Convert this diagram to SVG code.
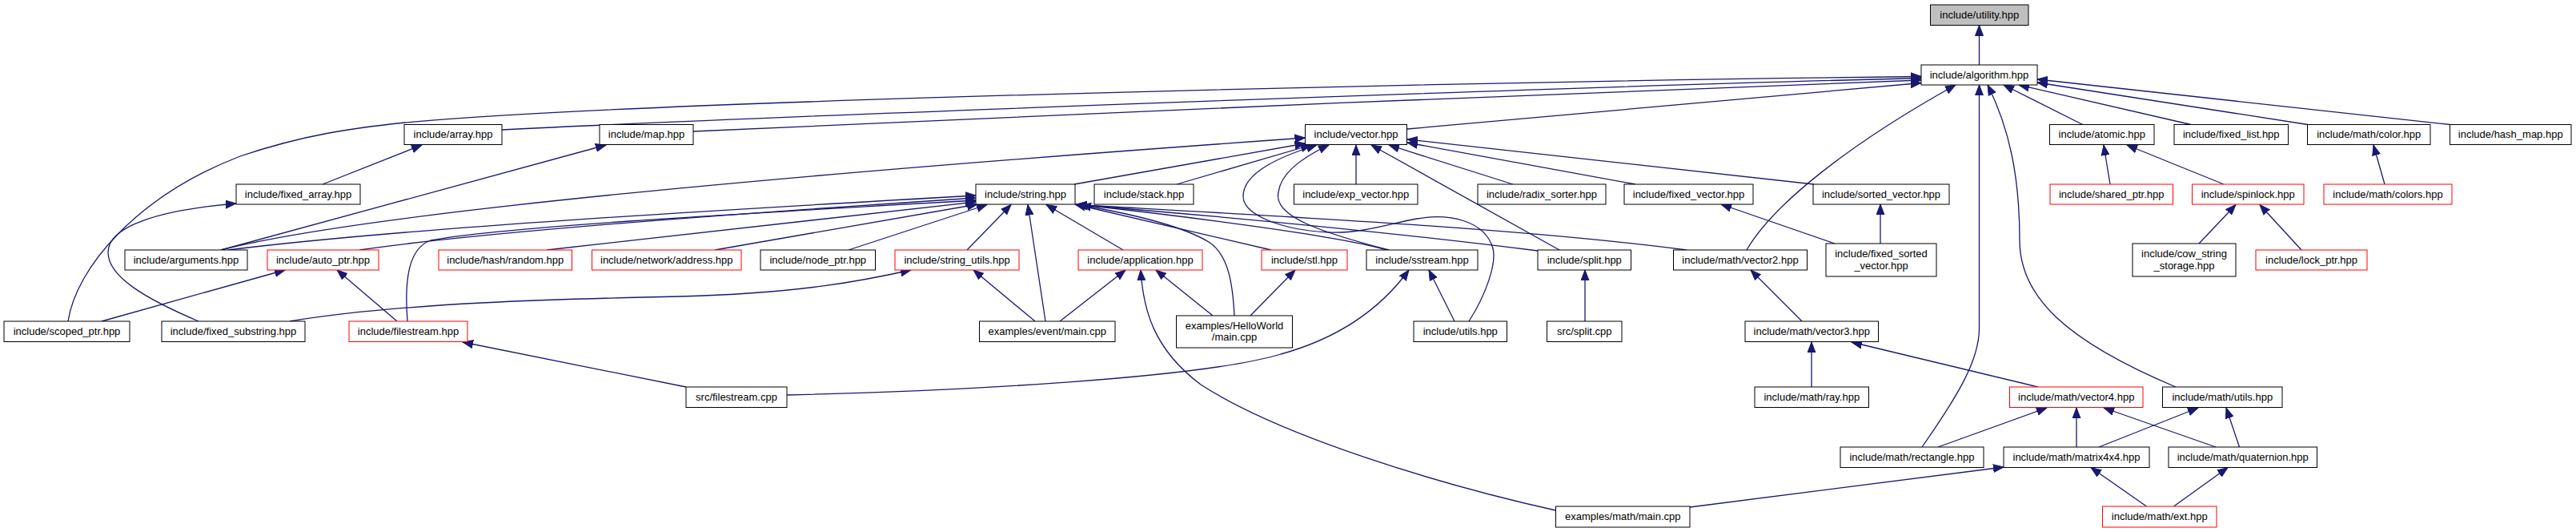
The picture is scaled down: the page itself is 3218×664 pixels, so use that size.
<svg xmlns="http://www.w3.org/2000/svg" width="3218" height="664" viewBox="0 0 3218 664">
<style>
.n rect{fill:#fff;stroke:#000;stroke-width:1}
.n.r rect{stroke:#ff0000}
.n.g rect{fill:#bfbfbf}
.n text{font-family:"Liberation Sans",Arial,sans-serif;font-size:13px;fill:#000;text-anchor:middle}
#edges path{fill:none;stroke:#191970;stroke-width:1.3;marker-end:url(#ah)}
</style>
<defs>
<marker id="ah" markerWidth="14" markerHeight="11" refX="13" refY="5.5" orient="auto" markerUnits="userSpaceOnUse"><path d="M0,0.5 L13,5.5 L0,10.5 z" fill="#191970" stroke="#191970" stroke-width="1"/></marker>
</defs>
<rect width="3218" height="664" fill="#fff"/>
<g id="edges">
<path d="M2472.5,81 L2472.5,31.5"/>
<path d="M627,162 C900,148 1900,110 2400,97.5"/>
<path d="M866,164 C1200,150 2000,112 2400,100"/>
<path d="M85,401 C95,335 170,245 300,195 C380,168 440,160 506,153 C800,125 1900,101 2400,95.5"/>
<path d="M1758,161 L2400,103.5"/>
<path d="M2601.7,155.5 L2503,106"/>
<path d="M2737,155.5 L2522,106"/>
<path d="M2883,155.5 L2545,103"/>
<path d="M3060.5,155.5 L2545,99"/>
<path d="M2182,312 C2215,255 2310,180 2443,106"/>
<path d="M2401,558 C2445,495 2472.5,450 2472.5,410 L2472.5,106"/>
<path d="M2718,483 C2580,425 2523,370 2523,300 C2523,220 2510,160 2483,106"/>
<path d="M276,312 C430,272 880,225 1630.5,172"/>
<path d="M276,312 L757,181"/>
<path d="M285,312 C500,285 900,262 1219,244"/>
<path d="M449,312 C600,290 900,268 1219,247"/>
<path d="M509,401 C505,350 510,310 538,300 C620,284 900,268 1219,250"/>
<path d="M683,312 L1219,252"/>
<path d="M893,312 L1221,255"/>
<path d="M1060,312 L1233,255.5"/>
<path d="M1208,312 L1263,255.5"/>
<path d="M1306,401 L1284,255.5"/>
<path d="M1403,312 L1307,255.5"/>
<path d="M1542,394 C1540,355 1535,318 1510,302 C1480,284 1420,268 1350,256"/>
<path d="M1588,312 L1343,255"/>
<path d="M1732,312 C1680,296 1500,272 1345,255"/>
<path d="M1921,313 C1700,285 1500,268 1345,255.5"/>
<path d="M2107,312 C1900,285 1600,270 1345,255.5"/>
<path d="M1735,312 C1650,290 1590,270 1597,240 C1600,215 1630,195 1660,181"/>
<path d="M1835,401 C1855,370 1870,330 1865,310 C1855,275 1810,266 1770,273 C1740,278 1700,292 1660,290 C1600,287 1553,268 1553,245 C1553,215 1600,195 1645,181"/>
<path d="M1470,230 L1638,181"/>
<path d="M1342,230 L1630.5,179"/>
<path d="M1694,230 L1694,181"/>
<path d="M1890,230 L1735,181"/>
<path d="M2043,230 L1758,178"/>
<path d="M2266,230 L1758,174"/>
<path d="M1948,312 L1713,181"/>
<path d="M403,230 L527,181"/>
<path d="M248,401 C180,372 135,345 135,315 C135,282 200,262 295,254"/>
<path d="M362,401 C500,378 700,373 850,370 C1000,366 1080,350 1138,337"/>
<path d="M127,401 L356,337"/>
<path d="M496,401 L421,337"/>
<path d="M857,483 L578,427"/>
<path d="M983,493 C1200,488 1500,472 1600,442 C1680,420 1730,378 1760,337"/>
<path d="M1293,401 L1216,337"/>
<path d="M1324,401 L1406,337"/>
<path d="M1515,394 L1444,337"/>
<path d="M1562,394 L1618,337"/>
<path d="M1943.5,637 C1800,605 1600,545 1500,480 C1440,435 1428,385 1425,337"/>
<path d="M2111,633 L2503,583"/>
<path d="M1817,401 L1785,337"/>
<path d="M1980,401 L1980,337"/>
<path d="M2251,401 L2187,337"/>
<path d="M2263,483 L2263,427"/>
<path d="M2546,483 L2313,427"/>
<path d="M2421,558 L2557,509"/>
<path d="M2594,558 L2594,509"/>
<path d="M2768,558 L2628,509"/>
<path d="M2622,558 L2746,509"/>
<path d="M2797.5,558 L2781,509"/>
<path d="M2681.5,632 L2612,583.5"/>
<path d="M2715.5,632 L2783,583.5"/>
<path d="M2292,304 L2150,255"/>
<path d="M2349,304 L2349,255"/>
<path d="M2636,230 L2628,181"/>
<path d="M2778,230 L2657,181"/>
<path d="M2979,230 L2965,181"/>
<path d="M2747,304 L2793,255.5"/>
<path d="M2875,312 L2823,255.5"/>
</g>
<g id="n_utility" class="n g"><rect x="2411.5" y="6" width="122.5" height="25.5"/><text x="2472.75" y="22.5">include/utility.hpp</text></g>
<g id="n_algorithm" class="n"><rect x="2400" y="81" width="145" height="25"/><text x="2472.5" y="97.5">include/algorithm.hpp</text></g>
<g id="n_array" class="n"><rect x="505" y="155.5" width="122" height="25"/><text x="566" y="172">include/array.hpp</text></g>
<g id="n_map" class="n"><rect x="749" y="155.5" width="117" height="25"/><text x="807.5" y="172">include/map.hpp</text></g>
<g id="n_vector" class="n"><rect x="1630.5" y="155.5" width="127" height="25"/><text x="1694" y="172">include/vector.hpp</text></g>
<g id="n_atomic" class="n"><rect x="2560.5" y="155.5" width="130.5" height="25"/><text x="2625.75" y="172">include/atomic.hpp</text></g>
<g id="n_fixed_list" class="n"><rect x="2716" y="155.5" width="142.5" height="25"/><text x="2787.25" y="172">include/fixed_list.hpp</text></g>
<g id="n_color" class="n"><rect x="2882.5" y="155.5" width="153.5" height="25"/><text x="2959.25" y="172">include/math/color.hpp</text></g>
<g id="n_hash_map" class="n"><rect x="3060.5" y="155.5" width="151.5" height="25"/><text x="3136.25" y="172">include/hash_map.hpp</text></g>
<g id="n_fixed_array" class="n"><rect x="295" y="230" width="155" height="25"/><text x="372.5" y="246.5">include/fixed_array.hpp</text></g>
<g id="n_string" class="n"><rect x="1219" y="230" width="124" height="25"/><text x="1281" y="246.5">include/string.hpp</text></g>
<g id="n_stack" class="n"><rect x="1367" y="230" width="124" height="25"/><text x="1429" y="246.5">include/stack.hpp</text></g>
<g id="n_exp_vector" class="n"><rect x="1616.5" y="230" width="154.5" height="25"/><text x="1693.75" y="246.5">include/exp_vector.hpp</text></g>
<g id="n_radix_sorter" class="n"><rect x="1846" y="230" width="160" height="25"/><text x="1926" y="246.5">include/radix_sorter.hpp</text></g>
<g id="n_fixed_vector" class="n"><rect x="2029" y="230" width="161" height="25"/><text x="2109.5" y="246.5">include/fixed_vector.hpp</text></g>
<g id="n_sorted_vector" class="n"><rect x="2265" y="230" width="170" height="25"/><text x="2350" y="246.5">include/sorted_vector.hpp</text></g>
<g id="n_shared_ptr" class="n r"><rect x="2561" y="230" width="153.5" height="25"/><text x="2637.75" y="246.5">include/shared_ptr.hpp</text></g>
<g id="n_spinlock" class="n r"><rect x="2738.5" y="230" width="139.5" height="25"/><text x="2808.25" y="246.5">include/spinlock.hpp</text></g>
<g id="n_colors" class="n r"><rect x="2903" y="230" width="160" height="25"/><text x="2983" y="246.5">include/math/colors.hpp</text></g>
<g id="n_arguments" class="n"><rect x="156" y="312" width="153" height="25"/><text x="232.5" y="328.5">include/arguments.hpp</text></g>
<g id="n_auto_ptr" class="n r"><rect x="334" y="312" width="139" height="25"/><text x="403.5" y="328.5">include/auto_ptr.hpp</text></g>
<g id="n_hash_random" class="n r"><rect x="548" y="312" width="166.5" height="25"/><text x="631.25" y="328.5">include/hash/random.hpp</text></g>
<g id="n_network_address" class="n r"><rect x="739.5" y="312" width="186.5" height="25"/><text x="832.75" y="328.5">include/network/address.hpp</text></g>
<g id="n_node_ptr" class="n"><rect x="950" y="312" width="143.5" height="25"/><text x="1021.75" y="328.5">include/node_ptr.hpp</text></g>
<g id="n_string_utils" class="n r"><rect x="1118" y="312" width="155" height="25"/><text x="1195.5" y="328.5">include/string_utils.hpp</text></g>
<g id="n_application" class="n r"><rect x="1347" y="312" width="155" height="25"/><text x="1424.5" y="328.5">include/application.hpp</text></g>
<g id="n_stl" class="n r"><rect x="1576" y="312" width="107" height="25"/><text x="1629.5" y="328.5">include/stl.hpp</text></g>
<g id="n_sstream" class="n"><rect x="1707" y="312" width="139" height="25"/><text x="1776.5" y="328.5">include/sstream.hpp</text></g>
<g id="n_split" class="n"><rect x="1921" y="312" width="116.5" height="25"/><text x="1979.25" y="328.5">include/split.hpp</text></g>
<g id="n_vector2" class="n"><rect x="2090.5" y="312" width="167" height="25"/><text x="2174" y="328.5">include/math/vector2.hpp</text></g>
<g id="n_fixed_sorted_vector" class="n"><rect x="2281" y="304" width="138" height="41"/><text x="2350" y="321">include/fixed_sorted</text><text x="2350" y="335.5">_vector.hpp</text></g>
<g id="n_cow_string_storage" class="n"><rect x="2664" y="304" width="129" height="41"/><text x="2728.5" y="321">include/cow_string</text><text x="2728.5" y="335.5">_storage.hpp</text></g>
<g id="n_lock_ptr" class="n r"><rect x="2818" y="312" width="139" height="25"/><text x="2887.5" y="328.5">include/lock_ptr.hpp</text></g>
<g id="n_scoped_ptr" class="n"><rect x="5" y="401" width="157" height="25.5"/><text x="83.5" y="417.5">include/scoped_ptr.hpp</text></g>
<g id="n_fixed_substring" class="n"><rect x="202" y="401" width="179" height="25.5"/><text x="291.5" y="417.5">include/fixed_substring.hpp</text></g>
<g id="n_filestream" class="n r"><rect x="436" y="401" width="148" height="25.5"/><text x="510" y="417.5">include/filestream.hpp</text></g>
<g id="n_event_main" class="n"><rect x="1223.5" y="401" width="169.5" height="25.5"/><text x="1308.25" y="417.5">examples/event/main.cpp</text></g>
<g id="n_helloworld_main" class="n"><rect x="1469.5" y="394" width="145" height="40"/><text x="1542" y="410.5">examples/HelloWorld</text><text x="1542" y="425">/main.cpp</text></g>
<g id="n_utils" class="n"><rect x="1766" y="401" width="116.5" height="25.5"/><text x="1824.25" y="417.5">include/utils.hpp</text></g>
<g id="n_src_split" class="n"><rect x="1932.5" y="401" width="93.5" height="25.5"/><text x="1979.25" y="417.5">src/split.cpp</text></g>
<g id="n_vector3" class="n"><rect x="2180" y="401" width="166.5" height="25.5"/><text x="2263.25" y="417.5">include/math/vector3.hpp</text></g>
<g id="n_src_filestream" class="n"><rect x="857" y="483" width="126" height="25.5"/><text x="920" y="499.5">src/filestream.cpp</text></g>
<g id="n_ray" class="n"><rect x="2192" y="483" width="142.5" height="25.5"/><text x="2263.25" y="499.5">include/math/ray.hpp</text></g>
<g id="n_vector4" class="n r"><rect x="2510.5" y="483" width="166.5" height="25.5"/><text x="2593.75" y="499.5">include/math/vector4.hpp</text></g>
<g id="n_math_utils" class="n"><rect x="2701.5" y="483" width="149.5" height="25.5"/><text x="2776.25" y="499.5">include/math/utils.hpp</text></g>
<g id="n_rectangle" class="n"><rect x="2299" y="558" width="179" height="25.5"/><text x="2388.5" y="574.5">include/math/rectangle.hpp</text></g>
<g id="n_matrix4x4" class="n"><rect x="2503" y="558" width="182" height="25.5"/><text x="2594" y="574.5">include/math/matrix4x4.hpp</text></g>
<g id="n_quaternion" class="n"><rect x="2709" y="558" width="185.5" height="25.5"/><text x="2801.75" y="574.5">include/math/quaternion.hpp</text></g>
<g id="n_math_main" class="n"><rect x="1943.5" y="632" width="167.5" height="26"/><text x="2027.25" y="648.5">examples/math/main.cpp</text></g>
<g id="n_ext" class="n r"><rect x="2626.5" y="632" width="142.5" height="26"/><text x="2697.75" y="648.5">include/math/ext.hpp</text></g>
</svg>
